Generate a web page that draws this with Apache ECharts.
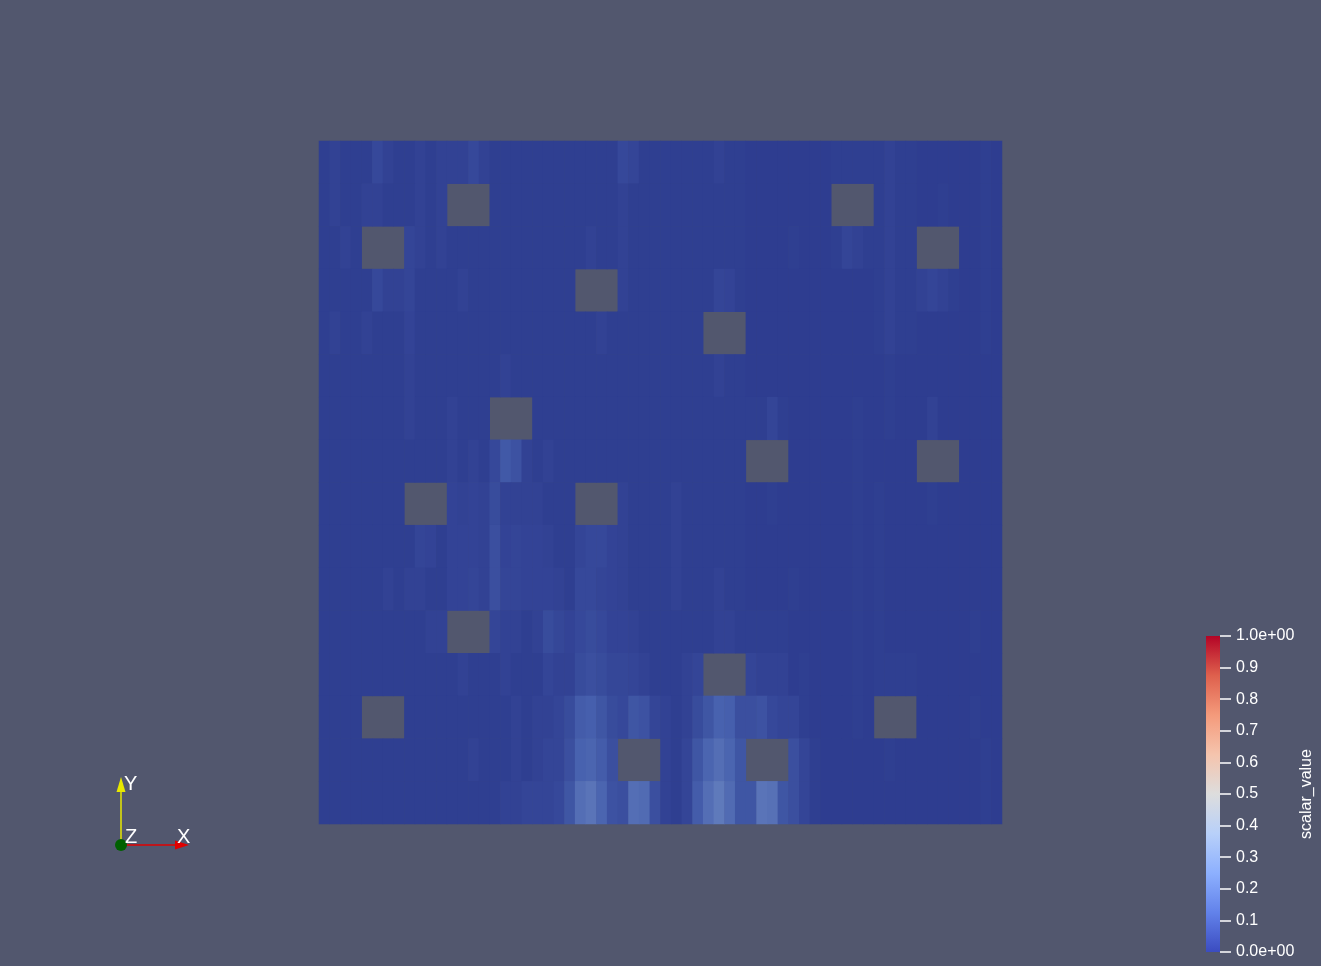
<!DOCTYPE html>
<html><head><meta charset="utf-8">
<script src="https://cdn.jsdelivr.net/npm/echarts@6/dist/echarts.min.js"></script>
<style>html,body{margin:0;padding:0;background:#52576e;}#c{width:1321px;height:966px;}</style>
</head><body><div id="c"></div>
<script>
const _ = null; // obstacle cell (no data)

// scalar_value field, 16 rows (top to bottom) x 64 columns (left to right)
const r0 = [.02,.03,.02,.02, .02,.05,.03,.02, .02,.03,.02,.03, .03,.03,.05,.03, .02,.02,.02,.02, .02,.02,.02,.02, .02,.02,.02,.02, .05,.04,.02,.02, .02,.02,.02,.02, .02,.03,.02,.02, .015,.015,.015,.015, .015,.015,.015,.015, .02,.02,.02,.02, .02,.03,.02,.02, .015,.015,.015,.015, .015,.015,.02,.015];
const r1 = [.02,.03,.02,.02, .03,.03,.02,.02, .02,.03,.02,.03, _,_,_,_, .02,.02,.02,.02, .02,.02,.02,.02, .02,.02,.02,.02, .03,.02,.02,.02, .02,.02,.02,.02, .02,.02,.02,.02, .015,.015,.015,.015, .015,.015,.015,.015, _,_,_,_, .02,.03,.02,.02, .015,.015,.02,.015, .015,.015,.02,.015];
const r2 = [.02,.02,.03,.02, _,_,_,_, .04,.03,.02,.03, .02,.02,.02,.02, .02,.02,.02,.02, .02,.02,.02,.02, .02,.03,.02,.02, .03,.02,.02,.02, .02,.02,.02,.02, .02,.02,.02,.02, .015,.015,.015,.015, .02,.015,.015,.015, .02,.04,.03,.02, .02,.03,.02,.02, _,_,_,_, .015,.015,.02,.015];
const r3 = [.02,.02,.02,.02, .02,.05,.03,.03, .04,.02,.02,.02, .02,.03,.02,.02, .02,.02,.02,.02, .02,.02,.02,.02, _,_,_,_, .03,.02,.02,.02, .02,.02,.02,.02, .02,.04,.035,.02, .015,.015,.015,.015, .015,.015,.015,.015, .015,.015,.015,.015, .02,.03,.02,.02, .03,.04,.03,.02, .015,.015,.02,.015];
const r4 = [.02,.03,.02,.02, .03,.02,.02,.02, .035,.02,.02,.02, .02,.02,.02,.02, .02,.02,.02,.02, .02,.02,.02,.02, .02,.02,.03,.02, .02,.02,.02,.02, .02,.02,.02,.02, _,_,_,_, .015,.015,.015,.015, .015,.015,.015,.015, .015,.015,.015,.015, .02,.03,.02,.02, .015,.015,.015,.015, .015,.015,.02,.015];
const r5 = [.02,.02,.02,.02, .02,.02,.02,.02, .03,.02,.02,.02, .02,.02,.02,.02, .02,.03,.02,.02, .02,.02,.02,.02, .02,.02,.02,.02, .02,.02,.02,.02, .02,.02,.02,.02, .02,.03,.02,.02, .015,.015,.015,.015, .015,.015,.015,.015, .015,.015,.015,.015, .015,.02,.015,.015, .015,.015,.015,.015, .015,.015,.015,.015];
const r6 = [.02,.02,.02,.02, .02,.02,.02,.02, .03,.02,.02,.02, .03,.02,.02,.02, _,_,_,_, .02,.02,.02,.02, .02,.02,.02,.02, .02,.02,.02,.02, .02,.02,.02,.02, .02,.02,.02,.02, .02,.02,.04,.02, .015,.015,.015,.015, .015,.015,.02,.015, .015,.02,.015,.015, .015,.03,.015,.015, .015,.015,.015,.015];
const r7 = [.02,.02,.02,.02, .02,.02,.02,.02, .02,.02,.02,.02, .03,.02,.03,.02, .05,.10,.08,.03, .02,.03,.02,.02, .02,.02,.02,.02, .02,.02,.02,.02, .02,.02,.02,.02, .02,.02,.02,.02, _,_,_,_, .015,.015,.015,.015, .015,.015,.02,.015, .015,.015,.015,.015, _,_,_,_, .015,.015,.015,.015];
const r8 = [.02,.02,.02,.02, .02,.02,.02,.02, _,_,_,_, .035,.03,.035,.03, .06,.03,.03,.03, .03,.02,.02,.02, _,_,_,_, .03,.02,.02,.02, .02,.03,.02,.02, .02,.02,.02,.02, .015,.015,.02,.015, .015,.015,.015,.015, .015,.015,.02,.015, .02,.015,.015,.015, .015,.02,.015,.015, .015,.015,.015,.015];
const r9 = [.02,.02,.02,.02, .02,.02,.02,.02, .02,.04,.035,.02, .035,.035,.035,.03, .07,.035,.04,.035, .035,.03,.02,.02, .04,.05,.05,.035, .03,.02,.02,.02, .02,.03,.02,.02, .02,.02,.02,.02, .015,.015,.015,.015, .015,.015,.015,.015, .015,.015,.02,.015, .02,.015,.015,.015, .015,.015,.015,.015, .015,.015,.015,.015];
const r10 = [.02,.02,.02,.02, .02,.02,.03,.02, .03,.03,.02,.02, .035,.035,.04,.03, .07,.04,.04,.035, .035,.035,.03,.02, .05,.05,.04,.035, .03,.02,.02,.02, .02,.03,.02,.02, .02,.03,.02,.02, .015,.015,.015,.015, .02,.015,.015,.015, .015,.015,.02,.015, .02,.015,.015,.015, .015,.015,.015,.015, .015,.015,.015,.015];
const r11 = [.02,.02,.02,.02, .02,.02,.02,.02, .02,.02,.03,.03, _,_,_,_, .04,.03,.03,.02, .03,.06,.045,.035, .05,.06,.05,.035, .035,.03,.02,.02, .02,.02,.02,.02, .02,.03,.03,.02, .02,.02,.02,.02, .015,.015,.015,.015, .015,.015,.02,.015, .02,.015,.015,.015, .015,.015,.015,.015, .015,.02,.015,.015];
const r12 = [.02,.02,.02,.02, .02,.02,.02,.02, .02,.02,.02,.02, .02,.03,.02,.02, .02,.03,.02,.02, .02,.04,.03,.03, .06,.07,.06,.045, .045,.04,.03,.02, .02,.02,.03,.04, _,_,_,_, .04,.03,.03,.03, .015,.02,.015,.015, .015,.015,.02,.015, .02,.02,.02,.02, .015,.015,.015,.015, .015,.015,.015,.015];
const r13 = [.02,.02,.02,.02, _,_,_,_, .02,.02,.02,.02, .02,.02,.02,.02, .02,.02,.03,.02, .03,.03,.04,.06, .11,.12,.09,.06, .05,.09,.08,.04, .03,.02,.03,.06, .09,.13,.12,.07, .07,.08,.05,.04, .04,.02,.015,.015, .015,.015,.02,.015, _,_,_,_, .015,.015,.015,.015, .015,.02,.015,.015];
const r14 = [.02,.02,.02,.02, .02,.02,.02,.02, .02,.02,.02,.02, .02,.02,.03,.02, .02,.02,.03,.02, .03,.04,.04,.07, .13,.14,.11,.07, _,_,_,_, .03,.02,.04,.09, .14,.17,.14,.09, _,_,_,_, .07,.04,.02,.015, .015,.015,.015,.015, .015,.02,.015,.015, .015,.015,.015,.015, .015,.015,.02,.015];
const r15 = [.02,.02,.02,.02, .02,.02,.02,.02, .02,.02,.02,.02, .02,.02,.02,.02, .02,.03,.03,.04, .04,.04,.05,.09, .17,.19,.14,.08, .07,.17,.16,.07, .03,.02,.04,.11, .17,.21,.16,.09, .09,.19,.18,.09, .07,.04,.02,.015, .015,.015,.015,.015, .015,.015,.015,.015, .015,.015,.015,.015, .015,.015,.02,.015];
const fieldRows = [r0,r1,r2,r3,r4,r5,r6,r7,r8,r9,r10,r11,r12,r13,r14,r15];

// colour bar tick labels (0.0 .. 1.0)
const colorbarLabels = ['0.0e+00','0.1','0.2','0.3','0.4','0.5','0.6','0.7','0.8','0.9','1.0e+00'];
const colorbarTitle = 'scalar_value';

// Cool to Warm map (legend) and the same map as it appears shaded on the surface
const coolWarm = ['#3b4cc0','#6282ea','#8db0fe','#b8d0f9','#dddddd','#f5c4ad','#f49a7b','#de604d','#b40426'];
const coolWarmShaded = ['#2b388c','#4761ae','#6b86c1','#8c9ebd','#a8a8a8','#ba9583','#b9755d','#a9493b','#89031d'];

const nCols = r0.length, nRows = fieldRows.length;
const colCats = Array.from({length:nCols},(d,i)=>String(i));
const rowCats = Array.from({length:nRows},(d,i)=>String(i));
const heatData = [];
fieldRows.forEach((row,ri)=>row.forEach((v,ci)=>{ if(v!==null) heatData.push([ci,ri,v]); }));

const barStops = coolWarm.map((c,i)=>({offset:i/(coolWarm.length-1), color:c}));

const chart = echarts.init(document.getElementById('c'), null, {renderer:'canvas'});
const txt = '#ffffff';
const font = 'Liberation Sans';
chart.setOption({
  backgroundColor:'#52576e',
  animation:false,
  grid:[
    {left:319, top:141, width:683, height:683, show:false},
    {left:1206, top:636, width:14, height:316, show:false}
  ],
  xAxis:[
    {type:'category', gridIndex:0, data:colCats, show:false},
    {type:'category', gridIndex:1, data:['scalar_value'], show:false}
  ],
  yAxis:[
    {type:'category', gridIndex:0, data:rowCats, inverse:true, show:false},
    {type:'value', gridIndex:1, min:0, max:1, interval:0.1, position:'right',
     axisLine:{show:false}, splitLine:{show:false},
     axisTick:{show:true, length:11, lineStyle:{color:txt, width:1.5}},
     axisLabel:{margin:16, color:txt, fontSize:16, fontFamily:font,
       formatter:(v)=>colorbarLabels[Math.round(v*10)]},
     name:colorbarTitle, nameLocation:'middle', nameRotate:90, nameGap:78,
     nameTextStyle:{color:txt, fontSize:16, fontFamily:font}}
  ],
  visualMap:[
    {type:'continuous', show:false, seriesIndex:0, min:0, max:1, inRange:{color:coolWarmShaded}}
  ],
  series:[
    {type:'heatmap', xAxisIndex:0, yAxisIndex:0, data:heatData, emphasis:{disabled:true},
     itemStyle:{borderWidth:0}, progressive:0},
    {type:'bar', xAxisIndex:1, yAxisIndex:1, data:[1], barWidth:14, silent:true,
     itemStyle:{color:new echarts.graphic.LinearGradient(0,1,0,0,barStops)}}
  ],
  graphic:[
    {type:'line', shape:{x1:121,y1:845,x2:121,y2:790}, style:{stroke:'#e8e800', lineWidth:1.5}},
    {type:'polygon', shape:{points:[[116.5,792],[125.5,792],[121,777]]}, style:{fill:'#e8e800'}},
    {type:'line', shape:{x1:121,y1:845,x2:177,y2:845}, style:{stroke:'#e00000', lineWidth:1.5}},
    {type:'polygon', shape:{points:[[175,840.5],[175,849.5],[189,845]]}, style:{fill:'#e00000'}},
    {type:'circle', shape:{cx:121,cy:845,r:6}, style:{fill:'#006000'}},
    {type:'text', left:124, top:774, style:{text:'Y', fill:txt, fontSize:20, fontFamily:font}},
    {type:'text', left:125, top:827, style:{text:'Z', fill:txt, fontSize:20, fontFamily:font}},
    {type:'text', left:177, top:827, style:{text:'X', fill:txt, fontSize:20, fontFamily:font}}
  ]
});
</script></body></html>
